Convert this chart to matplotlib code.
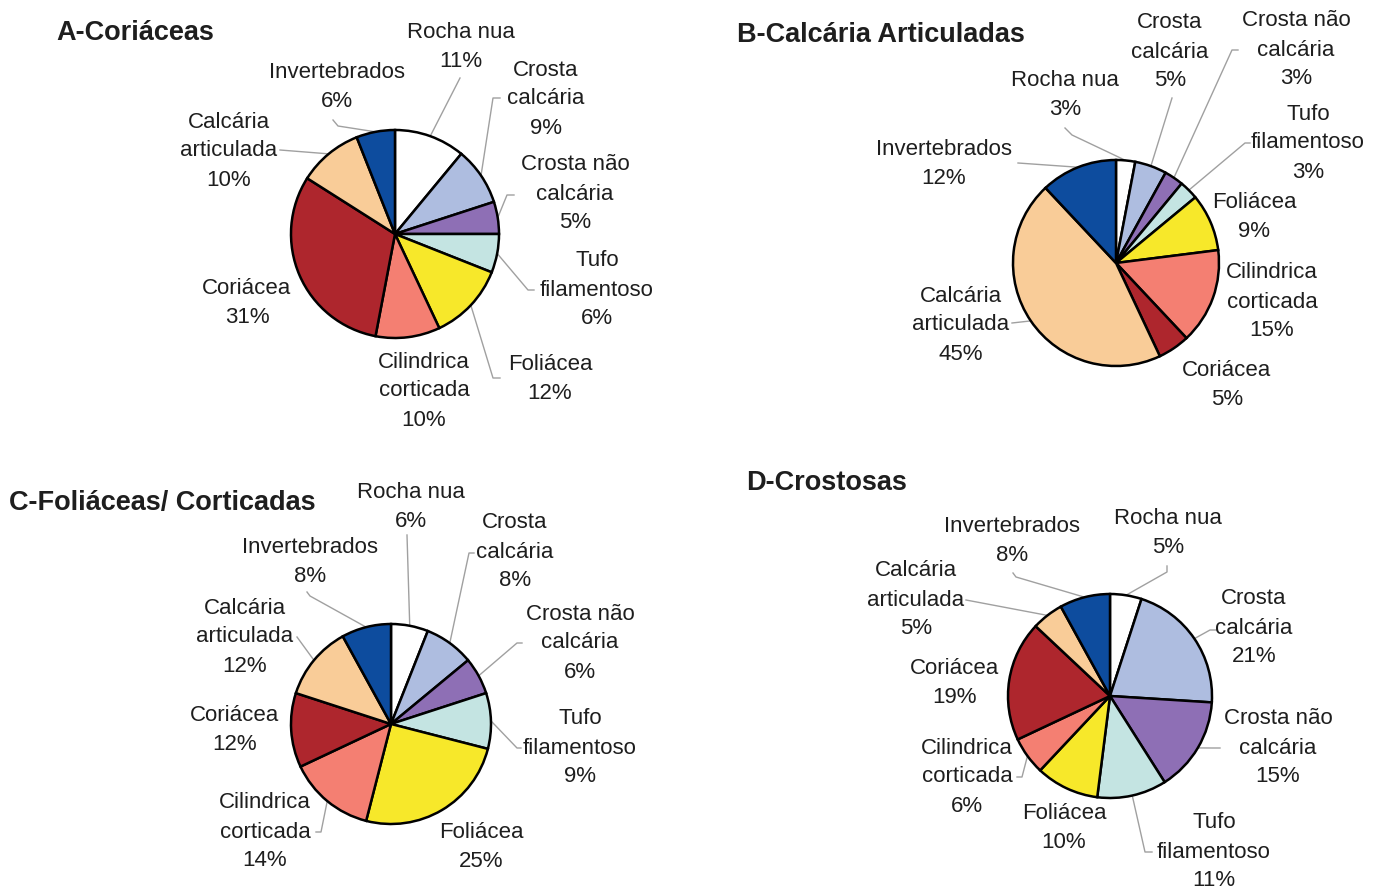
import numpy as np
import matplotlib
matplotlib.use("Agg")
import matplotlib.pyplot as plt

categories = ['Rocha nua', 'Crosta\ncalcária', 'Crosta não\ncalcária', 'Tufo\nfilamentoso',
              'Foliácea', 'Cilindrica\ncorticada', 'Coriácea', 'Calcária\narticulada', 'Invertebrados']
titles = ['A-Coriáceas', 'B-Calcária Articuladas', 'C-Foliáceas/ Corticadas', 'D-Crostosas']

vals_a = [11, 9, 5, 6, 12, 10, 31, 10, 6]
vals_b = [3, 5, 3, 3, 9, 15, 5, 45, 12]
vals_c = [6, 8, 6, 9, 25, 14, 12, 12, 8]
vals_d = [5, 21, 15, 11, 10, 6, 19, 5, 8]

colors = ['#FFFFFF', '#AEBDE0', '#8E6FB5', '#C4E4E2', '#F7E82A',
          '#F47F72', '#AE262D', '#F9CC98', '#0D4C9E']

# layout in pixels (from top-left)
W, H = 1381, 889
pie_geom = [(395, 234, 104), (1116, 263, 103), (391, 724, 100), (1110, 696, 102)]
title_pos = [(56, 33), (737, 35), (9, 503), (746, 483)]

label_pos = [
    [(461, 47), (546, 99), (575, 194), (597, 290), (550, 379), (424, 391), (247, 303), (229, 151), (337, 87)],
    [(1065, 95), (1170, 52), (1296, 50), (1308, 143), (1254, 217), (1272, 302), (1227, 385), (961, 325), (944, 164)],
    [(411, 507), (515, 552), (580, 643), (580, 748), (481, 847), (265, 832), (235, 730), (245, 637), (310, 562)],
    [(1168, 533), (1254, 628), (1278, 748), (1214, 852), (1064, 828), (967, 777), (955, 683), (916, 600), (1012, 541)],
]
# leader lines: (start near label, knee) or None
leaders = [
    [((460, 78), None), ((500, 98), (493, 98)), ((514, 195), (507, 195)), ((534, 290), (528, 290)),
     ((500, 378), (493, 378)), None, None, ((280, 150), None), ((333, 120), (338, 126))],
    [((1065, 128), (1072, 135)), ((1172, 98), None), ((1238, 50), (1232, 50)), ((1250, 143), (1245, 143)),
     None, None, None, ((1012, 323), None), ((1018, 163), None)],
    [((407, 535), None), ((474, 553), (469, 553)), ((522, 643), (517, 643)), ((521, 748), (517, 748)),
     None, ((316, 832), (321, 832)), None, ((297, 637), None), ((307, 592), (310, 596))],
    [((1167, 566), (1167, 572)), ((1217, 630), (1210, 630)), ((1220, 748), (1212, 748)), ((1152, 852), (1145, 852)),
     None, ((1017, 777), (1022, 777)), None, ((966, 600), None), ((1013, 573), (1016, 577))],
]

all_vals = [vals_a, vals_b, vals_c, vals_d]

fig = plt.figure(figsize=(W / 100, H / 100), dpi=100)
ax = fig.add_axes([0, 0, 1, 1])

def fy(y):
    return H - y

font = 'Liberation Sans'
txt_color = '#1E1E1E'

for k in range(4):
    vals = all_vals[k]
    cx, cy, r = pie_geom[k]
    ax.pie(vals, colors=colors, startangle=90, counterclock=False,
           center=(cx, fy(cy)), radius=r,
           wedgeprops=dict(edgecolor='black', linewidth=1.8))
    ax.text(title_pos[k][0], fy(title_pos[k][1]), titles[k], fontsize=19.5, fontweight='bold',
            family=font, color=txt_color, ha='left', va='center')
    total = float(sum(vals))
    cum = np.cumsum([0] + vals[:-1])
    for i, v in enumerate(vals):
        lx, ly = label_pos[k][i]
        ax.text(lx, fy(ly), categories[i] + '\n' + str(v) + '%', fontsize=16, family=font,
                color=txt_color, ha='center', va='center', linespacing=1.5)
        ld = leaders[k][i]
        if ld is None:
            continue
        theta = np.deg2rad(360.0 * (cum[i] + v / 2.0) / total)
        ex, ey = cx + r * np.sin(theta), cy - r * np.cos(theta)
        pts = [ld[0]]
        if ld[1] is not None:
            pts.append(ld[1])
        pts.append((ex, ey))
        xs = [p[0] for p in pts]
        ys = [fy(p[1]) for p in pts]
        ax.plot(xs, ys, color='#A0A0A0', linewidth=1.0, zorder=0)

ax.set_xlim(0, W)
ax.set_ylim(0, H)
ax.set_aspect('equal')
ax.axis('off')

fig.savefig('out.png', dpi=100)
